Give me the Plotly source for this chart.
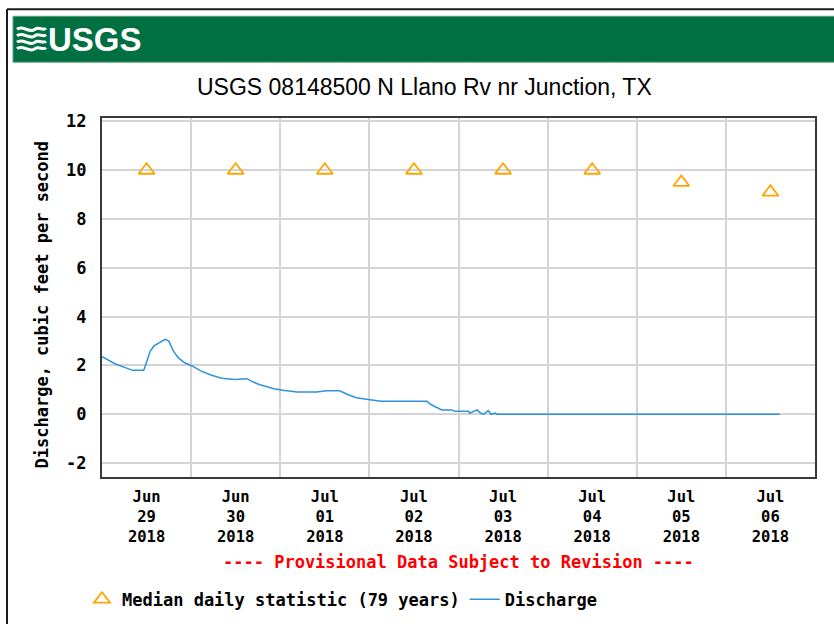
import plotly.graph_objects as go

# ---------------- data ----------------
flow_times = [
    "2018-06-29 00:00", "2018-06-29 02:15", "2018-06-29 03:30", "2018-06-29 06:15",
    "2018-06-29 08:15", "2018-06-29 11:15", "2018-06-29 12:00", "2018-06-29 13:00",
    "2018-06-29 14:00", "2018-06-29 15:30", "2018-06-29 17:00", "2018-06-29 18:00",
    "2018-06-29 19:15", "2018-06-29 20:30", "2018-06-29 22:15", "2018-06-30 00:15",
    "2018-06-30 02:45", "2018-06-30 05:30", "2018-06-30 08:15", "2018-06-30 11:45",
    "2018-06-30 14:00", "2018-06-30 15:00", "2018-06-30 16:45", "2018-06-30 18:30",
    "2018-06-30 20:30", "2018-06-30 22:15", "2018-07-01 00:45", "2018-07-01 04:30",
    "2018-07-01 09:45", "2018-07-01 12:30", "2018-07-01 16:00", "2018-07-01 18:00",
    "2018-07-01 20:30", "2018-07-02 00:15", "2018-07-02 03:00", "2018-07-02 15:30",
    "2018-07-02 16:30", "2018-07-02 17:45", "2018-07-02 19:30", "2018-07-02 22:15",
    "2018-07-02 23:00", "2018-07-03 02:45", "2018-07-03 03:00", "2018-07-03 05:00",
    "2018-07-03 06:00", "2018-07-03 06:45", "2018-07-03 08:00", "2018-07-03 08:45",
    "2018-07-03 10:00", "2018-07-03 10:15", "2018-07-06 14:30",
]
flow_values = [
    2.36, 2.16, 2.07, 1.91,
    1.80, 1.80, 2.18, 2.59,
    2.80, 2.93, 3.07, 3.00,
    2.59, 2.32, 2.11, 1.98,
    1.77, 1.60, 1.48, 1.43,
    1.43, 1.46, 1.32, 1.21,
    1.13, 1.05, 0.98, 0.91,
    0.91, 0.96, 0.96, 0.82,
    0.68, 0.61, 0.53, 0.53,
    0.41, 0.31, 0.18, 0.18,
    0.12, 0.12, 0.04, 0.18,
    0.04, 0.00, 0.15, 0.00,
    0.05, 0.00, 0.00,
]

median_times = [
    "2018-06-29 12:00", "2018-06-30 12:00", "2018-07-01 12:00", "2018-07-02 12:00",
    "2018-07-03 12:00", "2018-07-04 12:00", "2018-07-05 12:00", "2018-07-06 12:00",
]
median_values = [10, 10, 10, 10, 10, 10, 9.5, 9.1]

tick_times = median_times
tick_labels = [
    "Jun<br>29<br>2018", "Jun<br>30<br>2018", "Jul<br>01<br>2018", "Jul<br>02<br>2018",
    "Jul<br>03<br>2018", "Jul<br>04<br>2018", "Jul<br>05<br>2018", "Jul<br>06<br>2018",
]
grid_times = [
    "2018-06-30", "2018-07-01", "2018-07-02", "2018-07-03",
    "2018-07-04", "2018-07-05", "2018-07-06",
]
y_tick_values = [-2, 0, 2, 4, 6, 8, 10, 12]
y_tick_labels = ["-2", "0", "2", "4", "6", "8", "10", "12"]

# ---------------- layout helpers (pixel -> paper) ----------------
SY = 630 / 624          # vertical compensation
W, H = 834, 630
L, R = 102, 815
T, B = 117 * SY, 477 * SY


def X(px):
    return (px - L) / (R - L)


def Y(py):
    return (B - py * SY) / (B - T)


MONO = "DejaVu Sans Mono"

fig = go.Figure()
fig.add_trace(go.Scatter(
    x=median_times, y=median_values, mode="markers",
    name="Median daily statistic (79 years)",
    marker=dict(symbol="triangle-up-open", size=14, color="#FFA500",
                line=dict(width=1.8, color="#FFA500")),
))
fig.add_trace(go.Scatter(
    x=flow_times, y=flow_values, mode="lines", name="Discharge",
    line=dict(color="#2E93DA", width=1.5),
))

fig.update_layout(
    width=W, height=H,
    margin=dict(l=L, r=W - R, t=T, b=H - B, pad=0),
    paper_bgcolor="white", plot_bgcolor="white",
    font=dict(family=MONO, size=17, color="black", weight="bold"),
    showlegend=True,
    legend=dict(orientation="h", x=X(82), y=Y(600), xanchor="left", yanchor="middle",
                font=dict(family=MONO, size=17, weight="bold"),
                bgcolor="rgba(0,0,0,0)", itemclick=False),
)

fig.update_xaxes(
    type="date", range=["2018-06-29 00:00", "2018-07-07 00:00"],
    tickvals=tick_times, ticktext=tick_labels, showgrid=False,
    ticks="", ticklabelstandoff=4,
    tickfont=dict(family=MONO, size=15.5, weight="bold"),
    minor=dict(tickvals=grid_times, showgrid=True, gridcolor="#D4D4D4", gridwidth=2, ticks=""),
    showline=True, mirror=True, linecolor="#3A3A3A", linewidth=2,
    zeroline=False, automargin=False, fixedrange=True,
)
fig.update_yaxes(
    range=[-2.57, 12.14], tickvals=y_tick_values, ticktext=y_tick_labels,
    showgrid=True, gridcolor="#D4D4D4", gridwidth=2,
    ticks="", ticklabelstandoff=10,
    tickfont=dict(family=MONO, size=17, weight="bold"),
    showline=True, mirror=True, linecolor="#3A3A3A", linewidth=2,
    zeroline=False, automargin=False, fixedrange=True,
)

shapes = []
# outer frame lines
shapes.append(dict(type="line", xref="paper", yref="paper", x0=X(7), x1=X(840), y0=Y(8), y1=Y(8),
                   line=dict(color="#1A1A1A", width=2), layer="above"))
shapes.append(dict(type="line", xref="paper", yref="paper", x0=X(7), x1=X(7), y0=Y(8), y1=Y(640),
                   line=dict(color="#1A1A1A", width=2), layer="above"))
# green banner
shapes.append(dict(type="rect", xref="paper", yref="paper", x0=X(13), x1=X(840), y0=Y(61), y1=Y(15),
                   fillcolor="#006F41", line=dict(color="#5E9E7A", width=1), layer="above"))
# logo waves
for yb in [28, 34.5, 41, 47.5]:
    pts = [(17, yb), (23, yb - 5), (29, yb + 5), (35, yb), (39, yb - 3), (43, yb + 2), (46, yb - 1)]
    path = "M {:.5f},{:.5f} ".format(X(pts[0][0]), Y(pts[0][1]))
    path += "C {:.5f},{:.5f} {:.5f},{:.5f} {:.5f},{:.5f} ".format(
        X(pts[1][0]), Y(pts[1][1]), X(pts[2][0]), Y(pts[2][1]), X(pts[3][0]), Y(pts[3][1]))
    path += "C {:.5f},{:.5f} {:.5f},{:.5f} {:.5f},{:.5f}".format(
        X(pts[4][0]), Y(pts[4][1]), X(pts[5][0]), Y(pts[5][1]), X(pts[6][0]), Y(pts[6][1]))
    shapes.append(dict(type="path", xref="paper", yref="paper", path=path,
                       line=dict(color="white", width=3), layer="above"))
fig.update_layout(shapes=shapes)

annotations = [
    dict(text="USGS", xref="paper", yref="paper", x=X(46), y=Y(38.5), xanchor="left", yanchor="middle",
         showarrow=False,
         font=dict(family="Liberation Sans Narrow, Liberation Sans", size=33, color="white", weight="bold")),
    dict(text="USGS 08148500 N Llano Rv nr Junction, TX", xref="paper", yref="paper",
         x=X(424.5), y=Y(86), xanchor="center", yanchor="middle", showarrow=False,
         font=dict(family="Liberation Sans", size=23, color="black", weight="normal")),
    dict(text="Discharge, cubic feet per second", xref="paper", yref="paper",
         x=X(42), y=Y(304), xanchor="center", yanchor="middle", showarrow=False, textangle=-90,
         font=dict(family=MONO, size=17, color="black", weight="bold")),
    dict(text="---- Provisional Data Subject to Revision ----", xref="paper", yref="paper",
         x=X(458), y=Y(562), xanchor="center", yanchor="middle", showarrow=False,
         font=dict(family=MONO, size=17, color="#FF0000", weight="bold")),
]
fig.update_layout(annotations=annotations)

fig.write_html("out.html", config={"displayModeBar": False},
               post_script="document.body.style.margin='0';document.body.style.overflow='hidden';")
